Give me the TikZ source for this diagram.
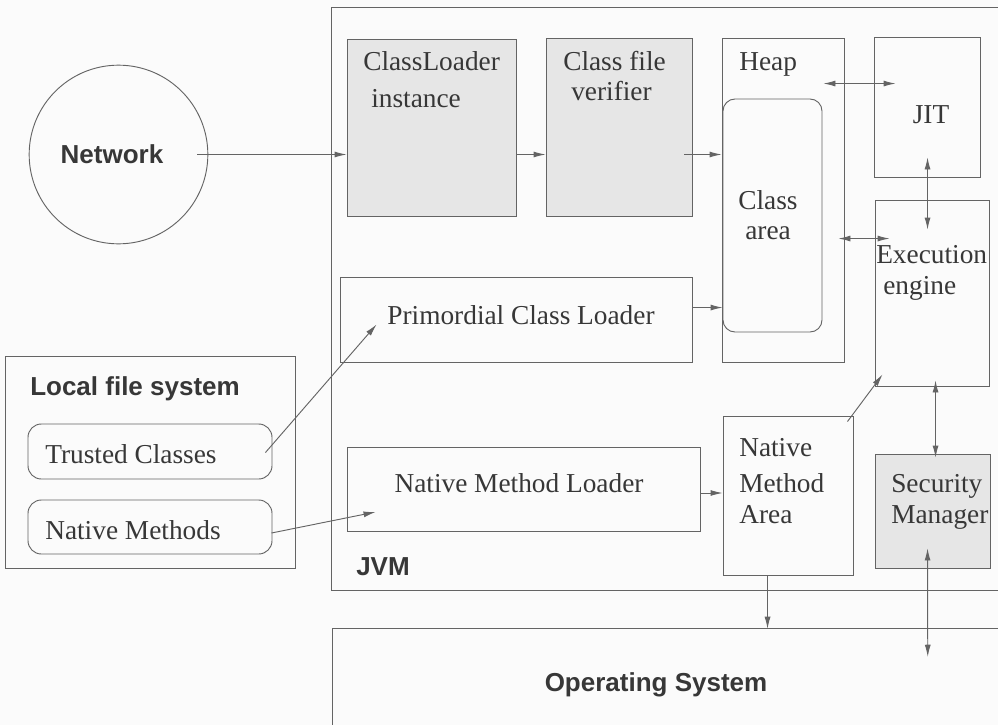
\documentclass[tikz,border=0pt]{standalone}
\usepackage{fontspec}
\setmainfont{Liberation Serif}
\setsansfont{Liberation Sans}
\usetikzlibrary{arrows.meta,fit,calc}
\definecolor{ln}{RGB}{100,100,100}
\definecolor{tx}{RGB}{55,55,55}
\definecolor{shade}{RGB}{230,230,230}
\definecolor{bg}{RGB}{251,251,251}
\begin{document}
\begin{tikzpicture}[x=0.75pt,y=-0.75pt,
  box/.style={draw=ln,line width=0.7pt,inner sep=0pt},
  shaded/.style={box,fill=shade},
  frame/.style={inner sep=0pt},
  ser/.style={text=tx,font=\fontsize{20.5}{24}\selectfont,inner sep=0pt},
  sans/.style={text=tx,font=\sffamily\bfseries\fontsize{19.5}{23}\selectfont,inner sep=0pt},
  tip/.tip={Latex[length=9pt,width=4.5pt]},
  arr/.style={draw=ln,line width=0.7pt,-tip},
  darr/.style={draw=ln,line width=0.7pt,tip-tip}]
\fill[bg] (0,0) rectangle (998,725);
\useasboundingbox (0,0) rectangle (998,725);

% frames open to the right / bottom
\node[frame,fit={(332,8) (998,590)}] (jvm) {};
\draw[ln,line width=0.7pt] (jvm.north east) -- (jvm.north west) -- (jvm.south west) -- (jvm.south east);
\node[frame,fit={(333,629) (998,725)}] (os) {};
\draw[ln,line width=0.7pt] (os.north east) -- (os.north west) -- (os.south west);

% network
\node[box,circle,minimum size=134pt] (net) at (118.5,154.5) {};

% boxes
\node[shaded,fit={(347,39) (516,216)}] (cl) {};
\node[shaded,fit={(546,38) (692,216)}] (cfv) {};
\node[box,fit={(722,38) (844,362)}] (heap) {};
\node[box,rounded corners=9pt,fit={(723,99) (822,332)}] (carea) {};
\node[box,fit={(874,37) (980,177)}] (jit) {};
\node[box,fit={(875,200) (989,386)}] (exec) {};
\node[box,fit={(340,277) (692,362)}] (prim) {};
\node[box,fit={(347,447) (700,531)}] (nml) {};
\node[box,fit={(723,416) (853,575)}] (nma) {};
\node[shaded,fit={(875,454) (990,568)}] (sm) {};
\node[box,fit={(5,356) (295,568)}] (lfs) {};
\node[box,rounded corners=10pt,fit={(28,424) (272,479)}] (trusted) {};
\node[box,rounded corners=10pt,fit={(28,500) (272,554)}] (natm) {};

% texts
\node[sans,anchor=base] (netT) at (112,163) {Network};
\node[ser,anchor=base west] (clT1) at (363,70) {ClassLoader};
\node[ser,anchor=base west] (clT2) at (371,107) {instance};
\node[ser,anchor=base west] (cfvT1) at (563,70) {Class file};
\node[ser,anchor=base west] (cfvT2) at (571,100) {verifier};
\node[ser,anchor=base west] (heapT) at (739,70) {Heap};
\node[ser,anchor=base] (jitT) at (931,123) {JIT};
\node[ser,anchor=base] (caT1) at (768,209) {Class};
\node[ser,anchor=base] (caT2) at (768,239) {area};
\node[ser,anchor=base west] (exT1) at (876,263) {Execution};
\node[ser,anchor=base west] (exT2) at (883,294) {engine};
\node[ser,anchor=base] (primT) at (521,324) {Primordial Class Loader};
\node[ser,anchor=base] (nmlT) at (519,492) {Native Method Loader};
\node[ser,anchor=base west] (nmaT1) at (739,456) {Native};
\node[ser,anchor=base west] (nmaT2) at (739,492) {Method};
\node[ser,anchor=base west] (nmaT3) at (739,523) {Area};
\node[ser,anchor=base west] (smT1) at (891,492) {Security};
\node[ser,anchor=base west] (smT2) at (891,523) {Manager};
\node[sans,anchor=base west] (lfsT) at (30,395) {Local file system};
\node[ser,anchor=base west] (trT) at (45,463) {Trusted Classes};
\node[ser,anchor=base west] (nmT) at (45,539) {Native Methods};
\node[sans,anchor=base west] (jvmT) at (356,575) {JVM};
\node[sans,anchor=base] (osT) at (656,691) {Operating System};

% connectors
\draw[arr] ($(net.east)+(-11,0)$) -- (cl.west |- net.east);
\draw[arr] (cl.east |- net.east) -- (cfv.west |- net.east);
\draw[arr] ($(cfv.east |- net.east)+(-8,0)$) -- (heap.west |- net.east);
\draw[darr] ($(heap.north east)+(-21,46)$) -- ($(jit.north west)+(22,47)$);
\draw[darr] ($(jit.south west)+(54,-20)$) -- ($(exec.north west)+(53,30)$);
\draw[darr] ($(carea.north east)+(16,140)$) -- ($(exec.north west)+(15,39)$);
\draw[arr] ($(prim.north east)+(0,31)$) -- ($(carea.west |- prim.north east)+(0,31)$);
\draw[arr] ($(trusted.east)+(-7,1)$) -- ($(prim.west)+(37,5)$);
\draw[arr] ($(natm.east)+(-1,6)$) -- ($(nml.west)+(29,23)$);
\draw[arr] ($(nml.east)+(0,4)$) -- ($(nma.west |- nml.east)+(0,4)$);
\draw[arr] ($(nma.north east)+(-6,6)$) -- ($(exec.south west)+(8,-12)$);
\draw[darr] ($(exec.south west)+(61,-6)$) -- ($(sm.north west)+(61,4)$);
\draw[darr] ($(sm.south west)+(53,-20)$) -- ($(os.north west)+(595,28)$);
\path ($(nma.south west)+(45,0)$) coordinate (n1);
\draw[arr] (n1) -- (n1 |- os.north);
\end{tikzpicture}
\end{document}
